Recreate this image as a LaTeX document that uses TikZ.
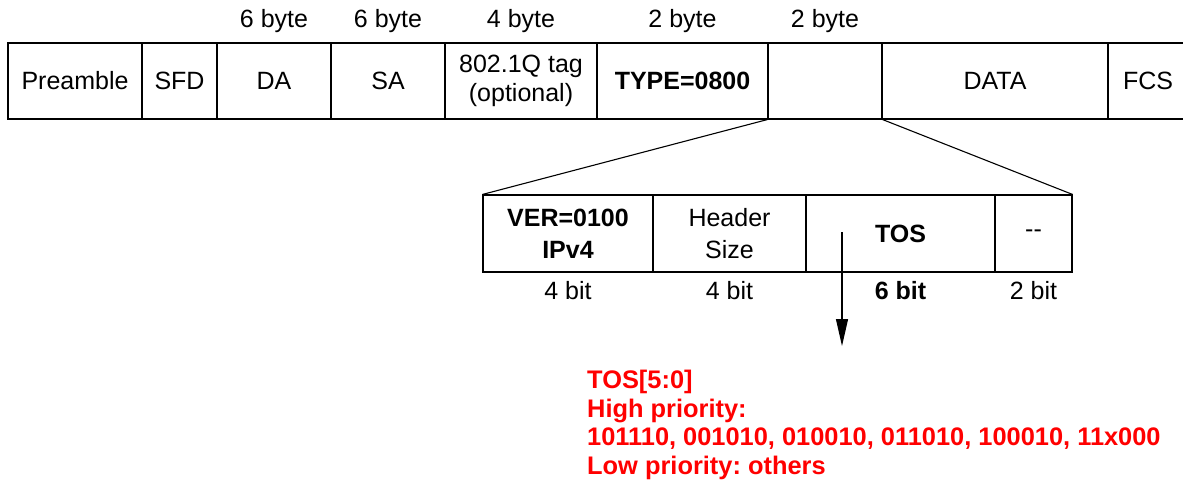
\documentclass[tikz,border=0pt]{standalone}
\usepackage{fontspec}
\setmainfont{Liberation Sans}
\usetikzlibrary{calc}
\usetikzlibrary{arrows.meta}

\begin{document}
\begin{tikzpicture}[x=1pt,y=1pt]
\tikzstyle{field}=[draw, line width=1.1pt, rectangle, inner sep=0pt, align=center, minimum height=76, font=\fontsize{25}{29.5}\selectfont]
\tikzstyle{subfield}=[field, minimum height=77, font=\fontsize{25}{32}\selectfont]
\tikzstyle{size}=[inner sep=0pt, font=\fontsize{25}{29.5}\selectfont]
\useasboundingbox (0,0) rectangle (1183,-481);

% Ethernet frame
\node (preamble) [field, minimum width=134] at (75,-81) {Preamble};
\node (sfd) [field, minimum width=75] at (179.5,-81) {SFD};
\node (da) [field, minimum width=114] at (274,-81) {DA};
\node (sa) [field, minimum width=114] at (388,-81) {SA};
\node (vlan) [field, minimum width=152] at (521,-81) {802.1Q tag\\(optional)};
\node (type) [field, minimum width=171] at (682.5,-81) {\textbf{TYPE=0800}};
\node (iphdr) [field, minimum width=114] at (825,-81) {};
\node (data) [field, minimum width=226] at (995,-81) {DATA};
\node (fcs) [field, minimum width=80] at (1148,-81) {FCS};

\node (daLen) [size] at ($(da.north)+(0,21)$) {6 byte};
\node (saLen) [size] at ($(sa.north)+(0,21)$) {6 byte};
\node (vlanLen) [size] at ($(vlan.north)+(0,21)$) {4 byte};
\node (typeLen) [size] at ($(type.north)+(0,21)$) {2 byte};
\node (iphdrLen) [size] at ($(iphdr.north)+(0,21)$) {2 byte};

% IP header bits
\node (ver) [subfield, minimum width=170] at (568,-233.5) {\textbf{VER=0100}\\\textbf{IPv4}};
\node (hsize) [subfield, minimum width=153] at (729.5,-233.5) {Header\\Size};
\node (tos) [subfield, minimum width=189] at (900.5,-233.5) {\textbf{TOS}};
\node (rest) [subfield, minimum width=77] at (1033.5,-233.5) {{-}{-}};

\node (verLen) [size] at ($(ver.south)+(0,-18)$) {4 bit};
\node (hsizeLen) [size] at ($(hsize.south)+(0,-18)$) {4 bit};
\node (tosLen) [size] at ($(tos.south)+(0,-18)$) {\textbf{6 bit}};
\node (restLen) [size] at ($(rest.south)+(0,-18)$) {2 bit};

\draw[line width=1.1pt] (iphdr.south west) -- (ver.north west);
\draw[line width=1.1pt] (iphdr.south east) -- (rest.north east);

\coordinate (tosTap) at (842,-232);
\coordinate (tosEnd) at (842,-346);
\draw[-{Triangle[length=27pt,width=12pt]}, line width=1.1pt] (tosTap) -- (tosEnd);

\node (tosInfo) [anchor=north west, inner sep=0pt, align=left, text=red, font=\frenchspacing\bfseries\fontsize{25.4}{28.5}\selectfont] at (587,-370) {TOS[5:0]\\High priority:\\101110, 001010, 010010, 011010, 100010, 11x000\\Low priority: others};

\end{tikzpicture}
\end{document}
